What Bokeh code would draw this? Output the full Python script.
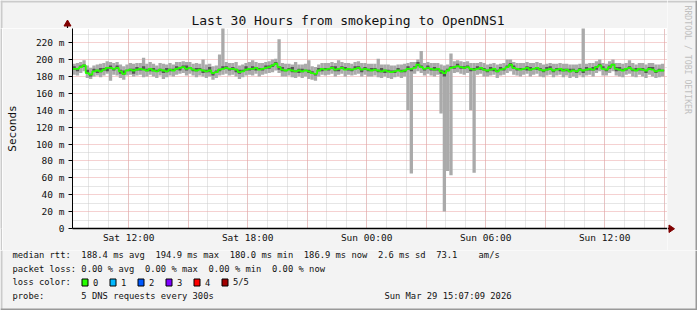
from math import pi
from bokeh.plotting import figure
from bokeh.layouts import column, row
from bokeh.models import Range1d, FixedTicker, Grid, ColumnDataSource
from bokeh.core.properties import value
from bokeh.embed import file_html
from bokeh.resources import INLINE

# ---------------- data (ms), 10-minute steps starting Sat 09:10 ----------------
START_HOUR = 9.17          # hours since Sat 00:00
STEP_HOURS = 1 / 6         # 10 minutes
SPAN_HOURS = 30

ping1 = [182,181,184,186,178,177,180,181,179,181,183,175,
         182,181,178,176,181,182,180,181,182,179,180,182,
         180,178,181,177,179,181,180,182,183,184,181,183,
         181,179,181,180,178,180,176,178,181,182,183,181,
         182,180,177,179,181,182,181,183,180,182,183,184,
         185,187,184,180,180,181,179,178,180,178,180,177,
         176,175,180,182,181,182,183,180,182,183,180,182,
         181,182,183,180,182,180,180,181,179,178,180,178,
         177,179,180,178,180,140,65,183,186,184,181,183,
         181,180,182,136,20,68,63,184,185,183,182,184,
         140,66,182,183,180,180,181,182,178,181,182,184,
         186,182,181,180,182,183,180,182,183,180,179,181,
         182,179,181,182,179,181,178,180,178,181,179,181,
         182,180,184,186,181,181,184,186,181,180,179,182,
         183,180,179,182,180,178,182,180,178,179,180]

ping2 = [188,186,191,191,183,180,186,184,185,187,186,189,
         187,189,183,182,187,186,183,187,187,188,186,186,
         186,186,186,184,185,186,187,188,187,190,187,190,
         186,186,188,184,185,185,181,184,186,189,189,187,
         188,185,183,186,187,187,188,187,188,187,189,189,
         191,194,188,186,186,188,185,185,184,185,187,184,
         183,181,186,186,188,187,189,186,186,189,188,187,
         186,189,189,185,188,186,187,187,185,185,184,185,
         184,184,187,185,185,188,186,190,192,190,187,189,
         187,187,187,183,180,186,190,189,191,189,189,191,
         186,187,189,188,187,185,187,186,185,188,187,190,
         192,189,187,188,188,187,187,189,188,187,185,187,
         188,185,188,186,186,186,185,187,184,187,184,187,
         187,187,188,192,189,186,189,193,186,187,187,187,
         189,186,187,187,187,184,188,188,184,186,186]

median = [189,189,191,193,184,182,186,187,186,188,190,190,
          189,190,186,183,187,188,187,188,189,188,187,189,
          187,186,188,187,186,188,187,189,190,191,189,190,
          188,187,188,187,186,187,184,185,188,189,190,189,
          189,188,185,186,188,189,189,190,188,189,190,191,
          193,195,191,188,187,188,187,186,187,186,187,186,
          184,183,187,189,188,189,190,188,189,190,188,189,
          188,189,190,188,189,188,187,188,187,186,187,186,
          185,186,187,186,187,189,189,190,194,191,189,190,
          189,188,189,186,184,187,190,191,192,191,190,191,
          189,188,189,190,188,187,188,189,186,188,189,191,
          194,190,189,188,189,190,188,189,190,188,187,188,
          189,187,188,189,187,188,186,187,186,188,187,188,
          189,188,191,193,189,188,191,194,189,188,187,189,
          190,188,187,189,188,187,189,188,186,187,187]

ping4 = [192,190,193,194,188,183,189,188,190,190,191,193,
         190,193,188,187,188,189,189,191,190,192,189,190,
         190,188,189,188,190,189,189,192,191,193,193,191,
         189,190,190,188,188,191,185,187,189,192,192,190,
         191,189,188,188,192,190,192,191,190,190,193,193,
         194,197,192,191,188,190,191,187,189,189,188,188,
         186,184,190,190,190,190,192,192,190,192,191,190,
         189,192,192,189,191,189,190,190,188,190,188,188,
         187,187,190,188,188,192,190,192,197,193,190,193,
         190,191,190,188,187,189,192,192,195,192,192,193,
         190,190,192,191,190,188,191,190,188,191,190,193,
         196,193,190,190,190,192,191,190,191,190,188,191,
         192,188,190,190,189,189,189,189,187,190,188,191,
         190,191,192,195,192,189,193,195,191,191,189,190,
         192,189,190,190,190,188,191,191,187,189,188]

ping5 = [195,196,197,199,193,190,193,194,195,196,198,197,
         196,197,194,192,194,196,195,196,196,202,195,197,
         195,193,196,195,194,196,194,197,197,198,197,197,
         195,196,195,200,194,195,192,193,206,240,197,196,
         196,197,193,194,196,197,199,197,196,196,197,198,
         200,201,224,196,195,195,194,197,194,194,195,199,
         192,191,194,196,196,196,197,196,199,197,196,196,
         195,197,198,196,196,195,195,195,201,194,194,194,
         193,193,194,194,195,196,197,197,200,210,196,197,
         196,196,196,194,193,194,207,198,199,198,197,198,
         196,196,196,197,196,194,195,196,194,195,196,200,
         200,197,196,196,196,197,196,196,197,196,194,195,
         196,195,195,196,195,195,194,194,194,195,240,195,
         196,196,198,200,196,195,198,200,196,196,195,196,
         199,196,194,196,196,194,196,196,194,194,195]

x_ticks = [12, 18, 24, 30, 36]
x_tick_labels = ["Sat 12:00", "Sat 18:00", "Sun 00:00", "Sun 06:00", "Sun 12:00"]
y_ticks = [0, 20, 40, 60, 80, 100, 120, 140, 160, 180, 200, 220]
y_tick_labels = ["0", "20 m", "40 m", "60 m", "80 m", "100 m", "120 m", "140 m",
                 "160 m", "180 m", "200 m", "220 m"]
hour_grid = list(range(10, 40))
major_hour_grid = [12, 15, 18, 21, 24, 27, 30, 33, 36, 39]
minor_y_grid = [10, 30, 50, 70, 90, 110, 130, 150, 170, 190, 210, 230]
major_y_grid = [20, 40, 60, 80, 100, 120, 140, 160, 180, 200, 220]

title_text = "Last 30 Hours from smokeping to OpenDNS1"
legend_rows = [
    "median rtt:  188.4 ms avg  194.9 ms max  180.0 ms min  186.9 ms now  2.6 ms sd  73.1    am/s",
    "packet loss: 0.00 % avg  0.00 % max  0.00 % min  0.00 % now",
    "loss color:",
    "probe:       5 DNS requests every 300s",
]
loss_labels = ["0", "1", "2", "3", "4", "5/5"]
loss_colors = ["#26ff00", "#00b8ff", "#0059ff", "#7e00ff", "#ff0000", "#a10000"]
stamp_text = "Sun Mar 29 15:07:09 2026"
credit_text = "RRDTOOL / TOBI OETIKER"

n = len(median)
assert all(len(a) == n for a in (ping1, ping2, ping4, ping5)), [len(a) for a in (ping1, ping2, median, ping4, ping5)]

left = [START_HOUR + i * STEP_HOURS for i in range(n)]
right = [v + STEP_HOURS for v in left]
src = ColumnDataSource(dict(left=left, right=right, p1=ping1, p2=ping2,
                            p3=median, p4=ping4, p5=ping5))

# ---------------- page geometry (pixels) ----------------
W, H = 697, 310
FL, FR, FT, FB = 67, 667, 28, 228      # plot frame in page pixels
SPLIT = 250                             # top of the legend strip
YMAX = 236.7
FONT = "DejaVu Sans Mono"
BG = "#f3f3f3"
LIGHT, DARK = "#cbcbcb", "#999999"
TXT = "#111111"
ARROW = "#800000"


def canvas_fig(x0, x1, y0, y1):
    """A plain figure whose frame is the page region x0..x1, y0..y1 (y downwards)."""
    return figure(width=x1 - x0, height=y1 - y0, output_backend="svg", toolbar_location=None,
                  x_range=Range1d(x0, x1), y_range=Range1d(y1, y0),
                  x_axis_type=None, y_axis_type=None,
                  min_border=0, min_border_left=0, min_border_right=0,
                  min_border_top=0, min_border_bottom=0,
                  background_fill_color=BG, border_fill_color=BG, outline_line_color=None)


def txt(f, text, x, y, size, align="left", color=TXT, angle=0.0):
    f.text(x=[x], y=[y], text=[text.replace(" ", "\u00a0")], text_font=value(FONT),
           text_font_size=size, text_color=color, text_align=align,
           text_baseline="middle", angle=angle)


def rect_px(f, l, r, t, b, fill, line=None):
    f.quad(left=[l], right=[r], top=[t], bottom=[b], fill_color=fill,
           line_color=line, line_width=1)


# ---- main plot ----
PB_H = SPLIT - FT
p = figure(width=FR - 2, height=PB_H, output_backend="svg", toolbar_location=None,
           x_range=Range1d(START_HOUR, START_HOUR + SPAN_HOURS),
           y_range=Range1d(0, YMAX),
           min_border_left=FL - 2, min_border_right=0,
           min_border_top=0, min_border_bottom=SPLIT - FB,
           background_fill_color="white", border_fill_color=BG,
           outline_line_color=None)

p.xgrid.visible = False
p.ygrid.visible = False
for ticks, color, dim in ((hour_grid, "#cccccc", 0), (minor_y_grid, "#cccccc", 1),
                          (major_hour_grid, "#eaa2a2", 0), (major_y_grid, "#eaa2a2", 1)):
    p.add_layout(Grid(dimension=dim, ticker=FixedTicker(ticks=ticks),
                      grid_line_color=color, grid_line_dash="1 1", grid_line_width=1))

p.xaxis.ticker = FixedTicker(ticks=x_ticks)
p.xaxis.major_label_overrides = dict(zip(x_ticks, x_tick_labels))
p.yaxis.ticker = FixedTicker(ticks=y_ticks)
p.yaxis.major_label_overrides = dict(zip(y_ticks, y_tick_labels))
for ax in (p.xaxis[0], p.yaxis[0]):
    ax.major_label_text_font = FONT
    ax.major_label_text_font_size = "9.5px"
    ax.major_label_text_color = TXT
    ax.minor_tick_line_color = None
    ax.axis_line_color = "#000000"
    ax.major_tick_line_color = "#000000"
p.xaxis.major_tick_out = 0
p.xaxis.major_tick_in = 0
p.xaxis.major_label_standoff = 3
p.xaxis.axis_line_width = 1.5
p.yaxis.major_tick_out = 4
p.yaxis.major_tick_in = 0
p.yaxis.major_label_standoff = 4
p.yaxis.axis_label = "Seconds"
p.yaxis.axis_label_text_font = FONT
p.yaxis.axis_label_text_font_size = "11px"
p.yaxis.axis_label_text_font_style = "normal"
p.yaxis.axis_label_text_color = TXT
p.yaxis.axis_label_standoff = 14

p.quad(left="left", right="right", bottom="p1", top="p5", source=src,
       fill_color="#aaaaaa", line_color=None)
p.quad(left="left", right="right", bottom="p2", top="p4", source=src,
       fill_color="#555555", line_color=None)
p.step(x=left + [right[-1]], y=median + [median[-1]], mode="after",
       line_color="#26ff00", line_width=1.8)

# ---- left border strip beside the main plot ----
strip = figure(width=2, height=PB_H, output_backend="svg", toolbar_location=None,
               x_axis_type=None, y_axis_type=None, min_border=0, min_border_left=0,
               min_border_right=0, min_border_top=0, min_border_bottom=0,
               background_fill_color=LIGHT, border_fill_color=LIGHT,
               outline_line_color=None)

# ---- header (title, y-axis arrow) ----
top = canvas_fig(0, FR, 0, FT)
rect_px(top, 0, FR, 0, 2, LIGHT)
rect_px(top, 0, 2, 0, FT, LIGHT)
rect_px(top, 66.4, 67.6, 22, FT, "#000000")
top.patch(x=[63.5, 70.5, 67], y=[25.5, 25.5, 19.5], fill_color=ARROW, line_color=ARROW)
txt(top, title_text, 347.5, 19.5, "13px", align="center")

# ---- right side (credit, x-axis arrow) ----
side = canvas_fig(FR, W, 0, SPLIT)
rect_px(side, FR, W, 0, 2, LIGHT)
rect_px(side, W - 2, W, 0, SPLIT, DARK)
rect_px(side, FR, 669, 227.25, 228.75, "#000000")
side.patch(x=[668.5, 668.5, 674], y=[224.5, 232, 228.25], fill_color=ARROW, line_color=ARROW)
txt(side, credit_text, 687, 5, "8.2px", color="#c0c0c0", angle=-pi / 2)

# ---- legend strip ----
leg = canvas_fig(0, W, SPLIT, H)
rect_px(leg, 0, 2, SPLIT, H, LIGHT)
rect_px(leg, W - 2, W, SPLIT, H, DARK)
rect_px(leg, 0, W, H - 2, H, DARK)
for row_text, cy in zip(legend_rows, (254.5, 268, 281.5, 295)):
    txt(leg, row_text, 12, cy, "8.8px")
txt(leg, stamp_text, 511, 295, "8.8px", align="right")
for k, (lab, col) in enumerate(zip(loss_labels, loss_colors)):
    bx = 81.5 + 28 * k
    rect_px(leg, bx, bx + 6, 278.5, 285.5, col, "#000000")
    txt(leg, lab, bx + 11, 281.5, "8.8px")

layout = column(row(column(top, row(strip, p, spacing=0), spacing=0), side, spacing=0),
                leg, spacing=0)

open("out.html", "w").write(file_html(layout, INLINE))
